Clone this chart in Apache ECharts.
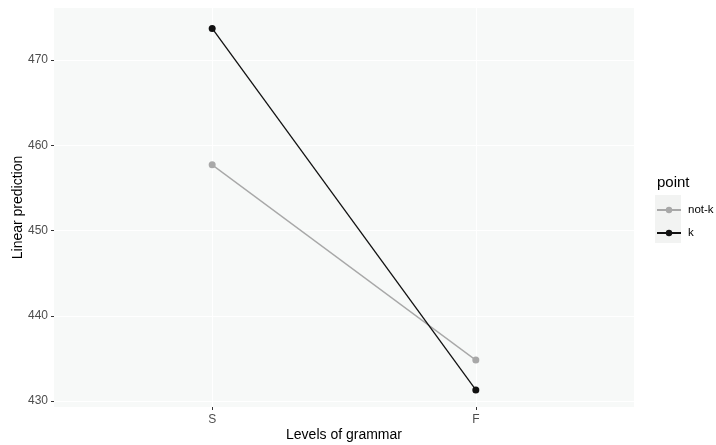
<!DOCTYPE html>
<html>
<head>
<meta charset="utf-8">
<script src="https://cdn.jsdelivr.net/npm/echarts@6/dist/echarts.min.js"></script>
<style>
html,body{margin:0;padding:0;background:#fff;}
#chart{width:716px;height:445px;}
</style>
</head>
<body>
<div id="chart"></div>
<script>
// Data
var categories = ['S', 'F'];
var notK = [457.7, 434.8];
var k = [473.7, 431.3];
var yTicks = [430, 440, 450, 460, 470];
var seriesNames = ['not-k', 'k'];

var FONT = '"Liberation Sans", Arial, sans-serif';

function toPoints(vals) {
  return vals.map(function (v, i) { return [i + 1, v]; });
}
var catPositions = categories.map(function (c, i) { return i + 1; });

var chart = echarts.init(document.getElementById('chart'), null, { renderer: 'canvas' });
chart.setOption({
  animation: false,
  backgroundColor: '#ffffff',
  grid: {
    left: 54, right: 82, top: 8, bottom: 38,
    outerBoundsMode: 'none',
    containLabel: false,
    show: true, backgroundColor: '#f7f9f8', borderWidth: 0
  },
  xAxis: {
    type: 'value',
    min: 0.4, max: 2.6,
    name: 'Levels of grammar',
    nameLocation: 'middle',
    nameGap: 21,
    nameMoveOverlap: false,
    nameTextStyle: { fontFamily: FONT, fontSize: 14, color: '#000' },
    axisLine: { show: false },
    axisTick: { show: true, customValues: catPositions, length: 3, lineStyle: { color: '#333', width: 1 } },
    axisLabel: {
      customValues: catPositions, margin: 7,
      fontFamily: FONT, fontSize: 12, color: '#4d4d4d',
      formatter: function (v) { return categories[Math.round(v) - 1] || ''; }
    },
    splitLine: { show: true, lineStyle: { color: '#ffffff', width: 1 } }
  },
  yAxis: {
    type: 'value',
    min: 429.3, max: 476.1,
    name: 'Linear prediction',
    nameLocation: 'middle',
    nameGap: 29,
    nameMoveOverlap: false,
    nameTextStyle: { fontFamily: FONT, fontSize: 14, color: '#000' },
    axisLine: { show: false },
    axisTick: { show: true, customValues: yTicks, length: 3, lineStyle: { color: '#333', width: 1 } },
    axisLabel: {
      customValues: yTicks, margin: 6,
      fontFamily: FONT, fontSize: 12, color: '#4d4d4d'
    },
    splitLine: { show: true, lineStyle: { color: '#ffffff', width: 1 } }
  },
  legend: {
    orient: 'vertical',
    left: 656, top: 204,
    padding: 0,
    itemWidth: 24, itemHeight: 8, itemGap: 11,
    textStyle: { fontFamily: FONT, fontSize: 11.5, color: '#000', padding: [0, 0, 0, 2] },
    data: seriesNames
  },
  graphic: [
    { type: 'rect', left: 655, top: 195, z: -1, shape: { width: 26, height: 48 }, style: { fill: '#f2f3f2' } },
    { type: 'text', left: 657, top: 175, style: { text: 'point', font: '15px ' + FONT, fill: '#000' } }
  ],
  series: [
    {
      name: seriesNames[0], type: 'line', data: toPoints(notK),
      symbol: 'circle', symbolSize: 7,
      lineStyle: { color: '#a8a8a8', width: 1.3 },
      itemStyle: { color: '#a8a8a8' }
    },
    {
      name: seriesNames[1], type: 'line', data: toPoints(k),
      symbol: 'circle', symbolSize: 7,
      lineStyle: { color: '#111111', width: 1.3 },
      itemStyle: { color: '#111111' }
    }
  ]
});
</script>
</body>
</html>
